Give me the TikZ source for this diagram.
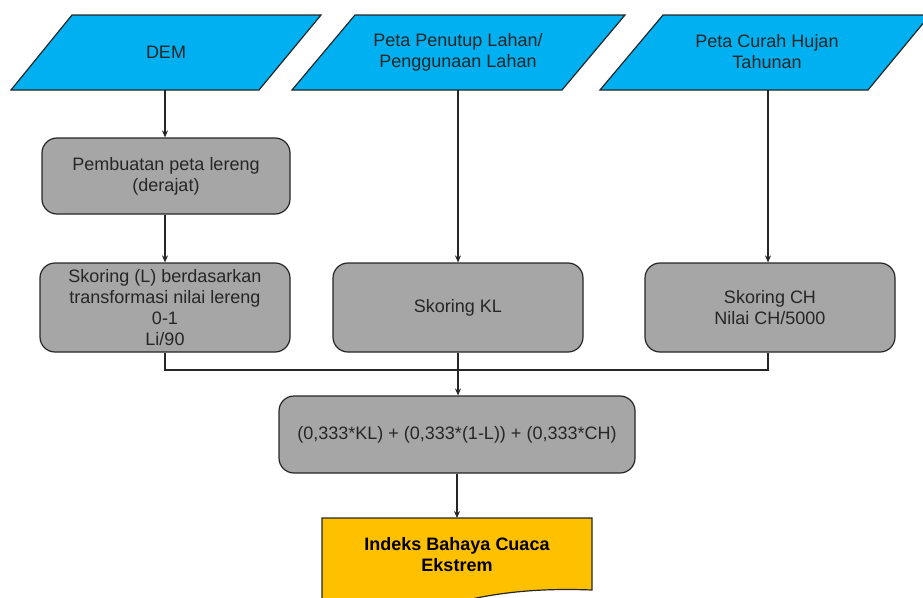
\documentclass[tikz,border=0pt]{standalone}
\usepackage{fontspec}
\setmainfont{Liberation Sans}
\usetikzlibrary{arrows.meta}
\definecolor{incyan}{HTML}{00B0F0}
\definecolor{boxgray}{HTML}{A6A6A6}
\definecolor{outyellow}{HTML}{FFC000}
\definecolor{edgec}{HTML}{262626}
\begin{document}
\begin{tikzpicture}[x=1pt,y=-1pt,
  inshape/.style={draw=edgec,fill=incyan,line width=1.2pt,line join=miter},
  txt/.style={align=center,font=\fontsize{18}{21}\selectfont,text=black!85},
  procbox/.style={draw=edgec,fill=boxgray,line width=1.2pt,rounded corners=15pt,align=center,font=\fontsize{18}{21}\selectfont,text=black!85,inner sep=0pt},
  conn/.style={draw=black!85,line width=1.1pt},
  arr/.style={conn,-{Stealth[length=7pt,width=6pt]}}]
\clip (0,0) rectangle (923,597);
\useasboundingbox (0,0) rectangle (923,597);
% input parallelograms
\draw[inshape] (72,15) -- (321,15) -- (259,90) -- (11,90) -- cycle;
\node[txt] (dem) at (166,52) {DEM};
\draw[inshape] (355,15) -- (625,15) -- (562,90) -- (292,90) -- cycle;
\node[txt] (lc) at (458,52) {Peta Penutup Lahan/\\Penggunaan Lahan};
\draw[inshape] (663,15) -- (930,15) -- (868,90) -- (600,90) -- cycle;
\node[txt] (ch) at (767,52) {Peta Curah Hujan\\Tahunan};
\coordinate (demb) at (165,90);
\coordinate (lcb) at (458,90);
\coordinate (chb) at (768,90);
% process boxes
\node[procbox,minimum width=248pt,minimum height=76pt] (slope) at (166,176) {Pembuatan peta lereng\\(derajat)};
\node[procbox,minimum width=250pt,minimum height=89pt] (skl) at (165,307.5) {Skoring (L) berdasarkan\\transformasi nilai lereng\\0-1\\Li/90};
\node[procbox,minimum width=250pt,minimum height=89pt] (skkl) at (458,307.5) {Skoring KL};
\node[procbox,minimum width=250pt,minimum height=89pt] (skch) at (770,307.5) {Skoring CH\\Nilai CH/5000};
\node[procbox,minimum width=356pt,minimum height=77pt] (form) at (457,434.5) {(0,333*KL) + (0,333*(1-L)) + (0,333*CH)};
% output document shape
\draw[draw=edgec,fill=outyellow,line width=1.2pt] (322,640) -- (322,518) -- (592,518) -- (592,590)
  .. controls (540,588) and (500,592) .. (458,602) .. controls (420,612) and (370,620) .. (322,615);
\node[txt,font=\bfseries\fontsize{18}{21}\selectfont,text=black] (out) at (457,555) {Indeks Bahaya Cuaca\\Ekstrem};
\coordinate (outt) at (457,518);
% connectors
\draw[arr] (demb) -- (slope.north -| demb);
\draw[arr] (slope.south -| demb) -- (skl.north -| demb);
\draw[arr] (lcb) -- (skkl.north -| lcb);
\draw[arr] (chb) -- (skch.north -| chb);
\coordinate (jl) at (165,370);
\coordinate (jr) at (768,370);
\draw[conn] (skl.south -| jl) -- (jl) -- (jr) -- (skch.south -| jr);
\draw[arr] (skkl.south) -- (form.north -| skkl.south);
\draw[arr] (form.south -| outt) -- (outt);
\end{tikzpicture}
\end{document}
